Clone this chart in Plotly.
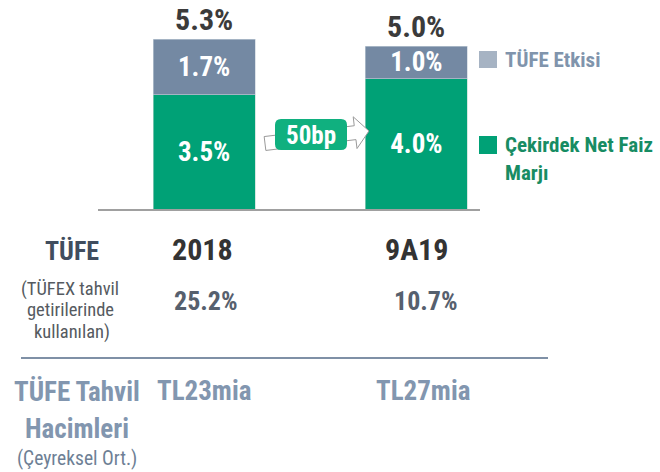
import math
import plotly.graph_objects as go

# ---- data ----
periods = ["2018", "9A19"]
core_nim = [3.5, 4.0]
cpi_effect = [1.7, 1.0]
total_labels = ["5.3%", "5.0%"]
cpi_rates = ["25.2%", "10.7%"]
bond_volumes = ["TL23mia", "TL27mia"]
series_names = ["TÜFE Etkisi", "Çekirdek Net Faiz", "Marjı"]
change_label = "50bp"

W, H = 660, 472
FONT = "'Liberation Sans Narrow', 'Arial Narrow', 'Roboto Condensed', 'DejaVu Sans Condensed', Arial, sans-serif"
GREEN = "#00A176"
GREY = "#7489A3"


def px(x):
    return x / W


def py(y):
    return 1 - y / H


def label(x, y, text, size, color, xref="paper", xanchor="center", xshift=0, bold=True):
    return dict(x=x, y=y, xref=xref, yref="paper", text=(f"<b>{text}</b>" if bold else text),
                showarrow=False, xanchor=xanchor, yanchor="middle", xshift=xshift,
                font=dict(family=FONT, size=size, color=color))


fig = go.Figure()
fig.add_trace(go.Bar(
    x=periods, y=core_nim, name="core", marker=dict(color=GREEN, line=dict(width=0.6, color="#B9D9CF")),
    text=[f"{v:.1f}%" for v in core_nim], textposition="inside", insidetextanchor="middle",
    constraintext="none", textangle=0,
    textfont=dict(family=FONT, size=27, color="white", weight="bold"),
    width=0.48, hoverinfo="skip"))
fig.add_trace(go.Bar(
    x=periods, y=cpi_effect, name="cpi", marker=dict(color=GREY, line=dict(width=0.6, color="#C7D0DB")),
    text=[f"{v:.1f}%" for v in cpi_effect], textposition="inside", insidetextanchor="middle",
    constraintext="none", textangle=0,
    textfont=dict(family=FONT, size=27, color="white", weight="bold"),
    width=0.48, hoverinfo="skip"))

annotations = []
# totals on top
for i, (c, e, lab) in enumerate(zip(core_nim, cpi_effect, total_labels)):
    annotations.append(dict(x=i, y=c + e, xref="x", yref="y", text=f"<b>{lab}</b>",
                            showarrow=False, xanchor="center", yanchor="bottom", yshift=0,
                            font=dict(family=FONT, size=30, color="#3B3B3B")))

# rows under chart
year_shift = [-2, 0]
rate_shift = [2, 10]
vol_shift = [0, 7]
for i, p in enumerate(periods):
    annotations.append(label(i, py(249), p, 30, "#333333", xref="x", xshift=year_shift[i]))
    annotations.append(label(i, py(301), cpi_rates[i], 26, "#56606E", xref="x", xshift=rate_shift[i]))
    annotations.append(label(i, py(391), bond_volumes[i], 27, "#8296AF", xref="x", xshift=vol_shift[i]))

# left row titles
annotations += [
    label(px(72), py(251), "TÜFE", 26, "#404D5E"),
    label(px(70), py(289), "(TÜFEX tahvil", 18.5, "#555A60", bold=False),
    label(px(70), py(310), "getirilerinde", 18.5, "#555A60", bold=False),
    label(px(72), py(332), "kullanılan)", 18.5, "#555A60", bold=False),
    label(px(77), py(392), "TÜFE Tahvil", 27, "#8296AF"),
    label(px(77), py(429), "Hacimleri", 27, "#8296AF"),
    label(px(77), py(458), "(Çeyreksel Ort.)", 19.5, "#6E7F95", bold=False),
]

# legend (manual)
annotations += [
    label(px(503), py(60), series_names[0], 21, "#8094AC", xanchor="left"),
    label(px(503), py(145), series_names[1], 21, "#178C63", xanchor="left"),
    label(px(503), py(173), series_names[2], 21, "#178C63", xanchor="left"),
]

# 50bp box label
annotations.append(label(px(311), py(135), change_label, 25, "white"))

shapes = []
# legend squares
shapes.append(dict(type="rect", xref="paper", yref="paper", x0=px(479), x1=px(497),
                   y0=py(68), y1=py(51), fillcolor="#A6B3C3", line=dict(width=0)))
shapes.append(dict(type="rect", xref="paper", yref="paper", x0=px(479), x1=px(497),
                   y0=py(154), y1=py(136), fillcolor=GREEN, line=dict(width=0)))
# separator line
shapes.append(dict(type="line", xref="paper", yref="paper", x0=px(21), x1=px(548),
                   y0=py(358), y1=py(358), line=dict(color="#7F90A6", width=2)))

# hollow tilted arrow
sx, sy = 265.0, 143.5
tx, ty = 369.0, 131.0
L = math.hypot(tx - sx, ty - sy)
ux, uy = (tx - sx) / L, (ty - sy) / L
nx, ny = -uy, ux
hw, hh, hl = 7.0, 16.0, 14.0
bx, by = sx + ux * (L - hl), sy + uy * (L - hl)
pts = [
    (sx - nx * hw, sy - ny * hw),
    (bx - nx * hw, by - ny * hw),
    (bx - nx * hh, by - ny * hh),
    (tx, ty),
    (bx + nx * hh, by + ny * hh),
    (bx + nx * hw, by + ny * hw),
    (sx + nx * hw, sy + ny * hw),
]
path = "M " + " L ".join(f"{px(a):.5f},{py(b):.5f}" for a, b in pts) + " Z"
shapes.append(dict(type="path", xref="paper", yref="paper", path=path,
                   fillcolor="white", line=dict(color="#9A9A9A", width=1)))

# rounded green box
x0, x1, y0, y1, r = 275, 347, 119, 150, 6
rp = (f"M {px(x0+r)},{py(y0)} L {px(x1-r)},{py(y0)} Q {px(x1)},{py(y0)} {px(x1)},{py(y0+r)} "
      f"L {px(x1)},{py(y1-r)} Q {px(x1)},{py(y1)} {px(x1-r)},{py(y1)} "
      f"L {px(x0+r)},{py(y1)} Q {px(x0)},{py(y1)} {px(x0)},{py(y1-r)} "
      f"L {px(x0)},{py(y0+r)} Q {px(x0)},{py(y0)} {px(x0+r)},{py(y0)} Z")
shapes.append(dict(type="path", xref="paper", yref="paper", path=rp,
                   fillcolor="#10B07F", line=dict(width=0)))

fig.update_layout(
    width=W, height=H, margin=dict(l=0, r=0, t=0, b=0),
    paper_bgcolor="white", plot_bgcolor="white",
    barmode="stack", showlegend=False,
    xaxis=dict(type="category", range=[-0.5, 1.3], domain=[px(98), px(480)],
               showticklabels=False, showgrid=False, zeroline=False,
               showline=True, linecolor="#A0A0A0", linewidth=2, ticks=""),
    yaxis=dict(range=[0, 209 / 32.6], domain=[py(209), 1], visible=False, fixedrange=True),
    annotations=annotations, shapes=shapes,
)

fig.write_html("out.html", config={"displayModeBar": False},
               post_script="document.body.style.margin='0';document.body.style.overflow='hidden';")
